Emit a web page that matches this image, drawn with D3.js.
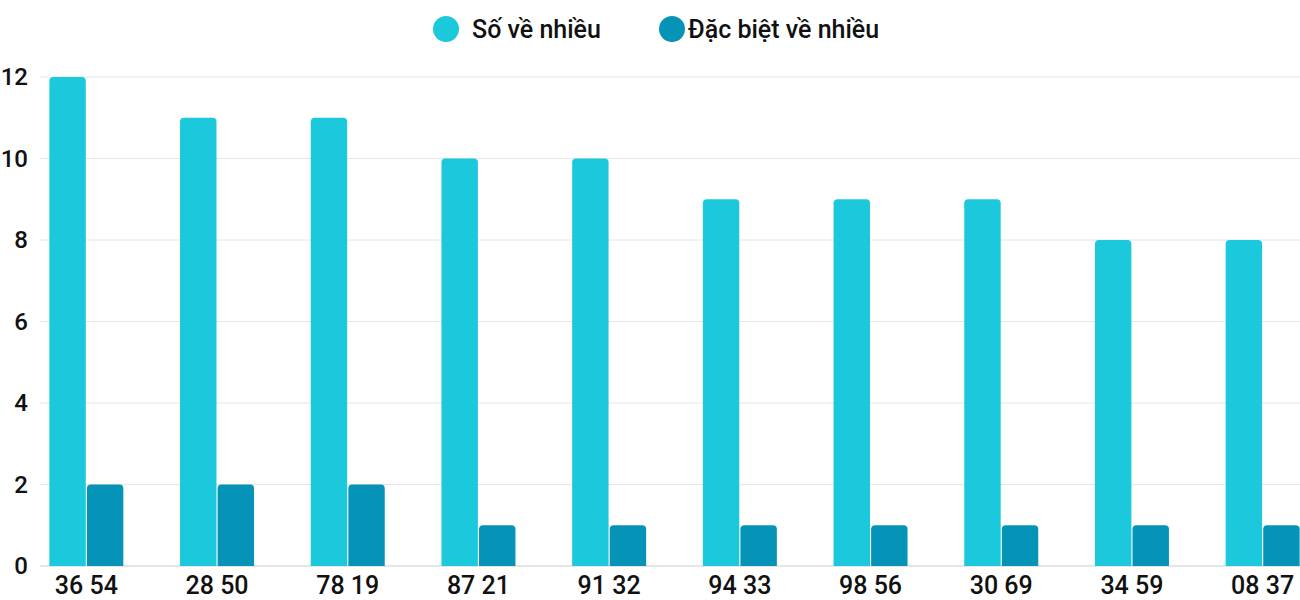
<!DOCTYPE html><html><head><meta charset="utf-8"><script src="https://cdn.jsdelivr.net/npm/d3@7"></script>
<style>body{margin:0;background:#fff}text{font-family:Roboto,sans-serif;font-weight:500}</style></head><body><svg width="1300" height="600"></svg>
<script>
const categories=["36 54","28 50","78 19","87 21","91 32","94 33","98 56","30 69","34 59","08 37"];
const soVeNhieu=[12,11,11,10,10,9,9,9,8,8];
const dacBiet=[2,2,2,1,1,1,1,1,1,1];
const yTicks=[0,2,4,6,8,10,12];
const seriesNames=["Số về nhiều","Đặc biệt về nhiều"];
const colors=["#1bc8dc","#0594b8"];
const svg=d3.select("svg");
const x=d3.scaleBand().domain(categories).range([21,1328]);
const y=d3.scaleLinear().domain([0,12]).range([566,77]);
const g=svg.append("g");
yTicks.forEach(t=>{
 g.append("line").attr("x1",40).attr("x2",1300).attr("y1",y(t)).attr("y2",y(t)).attr("stroke",t===0?"#ccc":"#e6e6e6");
 g.append("text").attr("x",28).attr("y",y(t)+8).attr("text-anchor","end").attr("font-size",24).attr("fill","#111").text(t);
});
const inner=d3.scaleBand().domain([0,1]).range([-37,37]).paddingInner(0.03);
[soVeNhieu,dacBiet].forEach((arr,si)=>{
 g.selectAll(null).data(arr).join("path").attr("fill",colors[si]).attr("d",(d,i)=>{
  const cx=x(categories[i])+x.bandwidth()/2;const x0=cx+inner(si),w=inner.bandwidth(),y0=y(d),y1=y(0),r=4;
  return `M${x0},${y1}V${y0+r}Q${x0},${y0} ${x0+r},${y0}H${x0+w-r}Q${x0+w},${y0} ${x0+w},${y0+r}V${y1}Z`;
 });
});
categories.forEach(c=>g.append("text").attr("x",x(c)+x.bandwidth()/2).attr("y",594).attr("text-anchor","middle").attr("font-size",25).attr("fill","#111").text(c));
const leg=[[446,472],[672,688]];
seriesNames.forEach((n,i)=>{
 svg.append("circle").attr("cx",leg[i][0]).attr("cy",29).attr("r",13).attr("fill",colors[i]);
 svg.append("text").attr("x",leg[i][1]).attr("y",38).attr("font-size",25).attr("fill","#111").text(n);
});
</script></body></html>
